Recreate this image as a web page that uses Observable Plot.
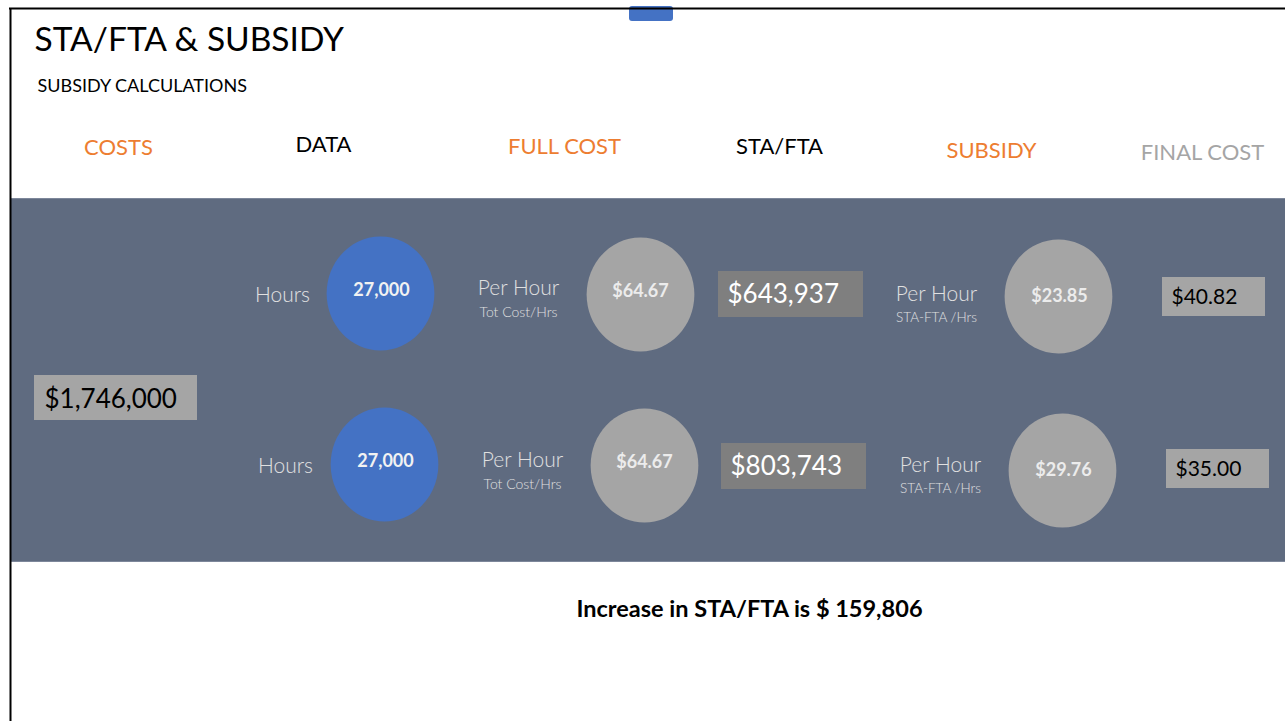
<!DOCTYPE html>
<html><head><meta charset="utf-8">
<script src="https://cdn.jsdelivr.net/npm/d3@7"></script>
<script src="https://cdn.jsdelivr.net/npm/@observablehq/plot@0.6"></script>
<style>body{margin:0;background:#fff;overflow:hidden}</style>
</head><body><div id="chart"></div>
<script>
// ---- data ----
const title = ["STA/FTA & SUBSIDY"];
const subtitle = ["SUBSIDY CALCULATIONS"];
const headers = ["COSTS", "DATA", "FULL COST", "STA/FTA", "SUBSIDY", "FINAL COST"];
const totalCost = [1746000];
const hours = [27000, 27000];
const fullCostPerHour = [64.67, 64.67];
const staFta = [643937, 803743];
const subsidyPerHour = [23.85, 29.76];
const finalCost = [40.82, 35.00];
const hoursLabel = "Hours";
const perHourLabel = "Per Hour";
const fullCostNote = "Tot Cost/Hrs";
const subsidyNote = "STA-FTA /Hrs";
const increase = [159806];

// ---- layout (pixel positions, identity scales) ----
const headerPos = [[118, 147], [323, 144], [564, 146], [779, 146], [991, 150], [1202, 152]];
const headerColor = ["#ed7d31", "#000000", "#ed7d31", "#000000", "#ed7d31", "#a5a5a5"];
const rows = [
  {hoursX: 282, hoursY: 295, blue: [380, 293], phX: 518, phY: 288, g1: [640, 294], box: [718, 863, 271, 317], ph2X: 936, ph2Y: 294, g2: [1058, 296], fbox: [1162, 1265, 277, 316]},
  {hoursX: 285, hoursY: 466, blue: [384, 464], phX: 522, phY: 460, g1: [644, 465], box: [721, 866, 443, 489], ph2X: 940, ph2Y: 465, g2: [1062, 470], fbox: [1166, 1269, 449, 488]}
];
const FONT = "Lato, 'Open Sans', sans-serif";
const LIGHT = "#e0e0e0";

// ellipse symbol (slightly taller than wide)
const ellipse = {
  draw(ctx, size) {
    const ry = Math.sqrt(size / Math.PI), rx = ry * 0.945, k = 0.5523;
    ctx.moveTo(rx, 0);
    ctx.bezierCurveTo(rx, k * ry, k * rx, ry, 0, ry);
    ctx.bezierCurveTo(-k * rx, ry, -rx, k * ry, -rx, 0);
    ctx.bezierCurveTo(-rx, -k * ry, -k * rx, -ry, 0, -ry);
    ctx.bezierCurveTo(k * rx, -ry, rx, -k * ry, rx, 0);
    ctx.closePath();
  }
};

const fmtInt = d3.format(",");
const fmtMoney = (v) => "$" + d3.format(",.2f")(v);
const fmtDollar = (v) => "$" + d3.format(",")(v);

const chart = Plot.plot({
  width: 1285,
  height: 721,
  margin: 0,
  x: {type: "identity", axis: null},
  y: {type: "identity", axis: null},
  style: {background: "#ffffff"},
  marks: [
    // band
    Plot.rect([0], {x1: () => 11, x2: () => 1285, y1: () => 198, y2: () => 561, fill: "#5f6b80"}),
    Plot.ruleY([198, 561], {x1: 11, x2: 1285, stroke: "#7d879a", strokeWidth: 1}),
    // tab
    Plot.rect([0], {x1: () => 629, x2: () => 673, y1: () => 6, y2: () => 21, fill: "#4472c4", rx: 3}),
    // frame lines
    Plot.ruleY([8], {x1: 9, x2: 1285, stroke: "#000", strokeWidth: 2}),
    Plot.ruleX([10], {y1: 8, y2: 721, stroke: "#000", strokeWidth: 2}),
    // title
    Plot.text(title, {x: () => 34, y: () => 40, text: d => d, textAnchor: "start", fontSize: 33.5, fill: "#000", fontFamily: FONT}),
    Plot.text(subtitle, {x: () => 37, y: () => 86, text: d => d, textAnchor: "start", fontSize: 18, fill: "#000", fontFamily: FONT}),
    // headers
    Plot.text(headers, {x: (d, i) => headerPos[i][0], y: (d, i) => headerPos[i][1], text: d => d, fill: (d, i) => headerColor[i], fontSize: 22, fontFamily: FONT}),
    // total cost box
    Plot.rect(totalCost, {x1: () => 34, x2: () => 197, y1: () => 375, y2: () => 420, fill: "#a5a5a5"}),
    Plot.text(totalCost, {x: () => 44, y: () => 399, text: fmtDollar, textAnchor: "start", fontSize: 26, fill: "#000", fontFamily: FONT}),
    // hours
    Plot.text(hours, {x: (d, i) => rows[i].hoursX, y: (d, i) => rows[i].hoursY, text: () => hoursLabel, fontSize: 21, fill: LIGHT, fontWeight: 300, fontFamily: FONT}),
    Plot.dot(hours, {x: (d, i) => rows[i].blue[0], y: (d, i) => rows[i].blue[1], r: 57, fill: "#4472c4", symbol: ellipse}),
    Plot.text(hours, {x: (d, i) => rows[i].blue[0] + 1, y: (d, i) => rows[i].blue[1] - 3, text: fmtInt, fontSize: 18, fontWeight: "bold", fill: "#f2f2f2", fontFamily: FONT}),
    // full cost per hour
    Plot.text(fullCostPerHour, {x: (d, i) => rows[i].phX, y: (d, i) => rows[i].phY, text: () => perHourLabel, fontSize: 21, fill: LIGHT, fontWeight: 300, fontFamily: FONT}),
    Plot.text(fullCostPerHour, {x: (d, i) => rows[i].phX, y: (d, i) => rows[i].phY + 24, text: () => fullCostNote, fontSize: 14, fill: LIGHT, fontWeight: 300, fontFamily: FONT}),
    Plot.dot(fullCostPerHour, {x: (d, i) => rows[i].g1[0], y: (d, i) => rows[i].g1[1], r: 57, fill: "#a5a5a5", symbol: ellipse}),
    Plot.text(fullCostPerHour, {x: (d, i) => rows[i].g1[0], y: (d, i) => rows[i].g1[1] - 3, text: fmtMoney, fontSize: 18, fontWeight: "bold", fill: "#ececec", fontFamily: FONT}),
    // STA/FTA boxes
    Plot.rect(staFta, {x1: (d, i) => rows[i].box[0], x2: (d, i) => rows[i].box[1], y1: (d, i) => rows[i].box[2], y2: (d, i) => rows[i].box[3], fill: "#7f7f7f"}),
    Plot.text(staFta, {x: (d, i) => rows[i].box[0] + 9, y: (d, i) => (rows[i].box[2] + rows[i].box[3]) / 2, text: fmtDollar, textAnchor: "start", fontSize: 26, fill: "#ffffff", fontFamily: FONT}),
    // subsidy per hour
    Plot.text(subsidyPerHour, {x: (d, i) => rows[i].ph2X, y: (d, i) => rows[i].ph2Y, text: () => perHourLabel, fontSize: 21, fill: LIGHT, fontWeight: 300, fontFamily: FONT}),
    Plot.text(subsidyPerHour, {x: (d, i) => rows[i].ph2X, y: (d, i) => rows[i].ph2Y + 23, text: () => subsidyNote, fontSize: 13.5, fill: LIGHT, fontWeight: 300, fontFamily: FONT}),
    Plot.dot(subsidyPerHour, {x: (d, i) => rows[i].g2[0], y: (d, i) => rows[i].g2[1], r: 57, fill: "#a5a5a5", symbol: ellipse}),
    Plot.text(subsidyPerHour, {x: (d, i) => rows[i].g2[0] + 1, y: (d, i) => rows[i].g2[1], text: fmtMoney, fontSize: 18, fontWeight: "bold", fill: "#ececec", fontFamily: FONT}),
    // final cost boxes
    Plot.rect(finalCost, {x1: (d, i) => rows[i].fbox[0], x2: (d, i) => rows[i].fbox[1], y1: (d, i) => rows[i].fbox[2], y2: (d, i) => rows[i].fbox[3], fill: "#a5a5a5"}),
    Plot.text(finalCost, {x: (d, i) => rows[i].fbox[0] + 9, y: (d, i) => (rows[i].fbox[2] + rows[i].fbox[3]) / 2, text: fmtMoney, textAnchor: "start", fontSize: 21, fill: "#000", fontFamily: FONT}),
    // footer
    Plot.text(increase, {x: () => 749, y: () => 609, text: d => "Increase in STA/FTA is $ " + fmtInt(d), fontSize: 23.5, fontWeight: "bold", fill: "#000", fontFamily: FONT})
  ]
});
document.getElementById("chart").appendChild(chart);
</script>
</body></html>
